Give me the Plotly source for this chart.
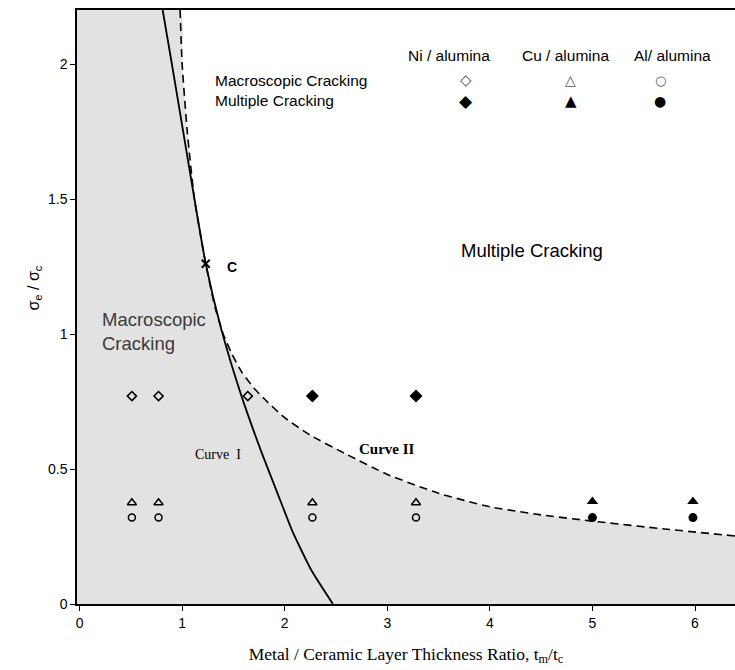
import plotly.graph_objects as go

# Curve I (solid) and Curve II (dashed) traced boundary points
curve1_x = [0.81, 0.90, 1.12, 1.23, 1.38, 1.57, 1.78, 1.93, 2.08, 2.26, 2.47]
curve1_y = [2.2, 2.0, 1.5, 1.26, 1.02, 0.78, 0.556, 0.41, 0.265, 0.125, 0.0]

curve2_x = [0.98, 1.0, 1.05, 1.12, 1.23, 1.32, 1.40, 1.48, 1.58, 1.70, 1.80, 2.0, 2.25, 2.6,
            3.0, 3.5, 4.0, 4.5, 5.0, 5.7, 6.39]
curve2_y = [2.2, 2.0, 1.75, 1.5, 1.26, 1.10, 1.00, 0.93, 0.86, 0.80, 0.76, 0.69, 0.625, 0.555,
            0.48, 0.41, 0.36, 0.33, 0.307, 0.278, 0.252]

# Experimental points: open = macroscopic cracking, filled = multiple cracking
ni_open_x = [0.51, 0.77, 1.64]
ni_open_y = [0.77, 0.77, 0.77]
ni_fill_x = [2.27, 3.28]
ni_fill_y = [0.77, 0.77]

cu_open_x = [0.51, 0.77, 2.27, 3.28]
cu_open_y = [0.375, 0.375, 0.375, 0.375]
cu_fill_x = [5.0, 5.98]
cu_fill_y = [0.38, 0.38]

al_open_x = [0.51, 0.77, 2.27, 3.28]
al_open_y = [0.32, 0.32, 0.32, 0.32]
al_fill_x = [5.0, 5.98]
al_fill_y = [0.32, 0.32]

point_c = (1.23, 1.26)

x_ticks = [0, 1, 2, 3, 4, 5, 6]
y_ticks = [0, 0.5, 1, 1.5, 2]
y_tick_text = ["0", "0.5", "1", "1.5", "2"]

SANS = "Liberation Sans, Arial, sans-serif"
SERIF = "Liberation Serif, Times New Roman, serif"

fig = go.Figure()

# shaded macroscopic-cracking region below Curve II
fig.add_trace(go.Scatter(
    x=[-0.03] + curve2_x, y=[2.2] + curve2_y,
    mode="lines", line=dict(width=0, shape="spline", smoothing=0.5),
    fill="tozeroy", fillcolor="rgb(226,226,226)", hoverinfo="skip",
))

fig.add_trace(go.Scatter(
    x=curve2_x, y=curve2_y, mode="lines",
    line=dict(color="black", width=1.6, dash="8px,5px", shape="spline", smoothing=0.5),
))
fig.add_trace(go.Scatter(
    x=curve1_x, y=curve1_y, mode="lines",
    line=dict(color="black", width=1.8, shape="spline", smoothing=0.5),
))

open_line = dict(color="black", width=1.5)
fig.add_trace(go.Scatter(x=ni_open_x, y=ni_open_y, mode="markers",
                         marker=dict(symbol="diamond-open", size=7, line=open_line, color="black")))
fig.add_trace(go.Scatter(x=ni_fill_x, y=ni_fill_y, mode="markers",
                         marker=dict(symbol="diamond", size=10, color="black")))
fig.add_trace(go.Scatter(x=cu_open_x, y=cu_open_y, mode="markers",
                         marker=dict(symbol="triangle-up-open", size=8, line=open_line, color="black")))
fig.add_trace(go.Scatter(x=cu_fill_x, y=cu_fill_y, mode="markers",
                         marker=dict(symbol="triangle-up", size=10, color="black")))
fig.add_trace(go.Scatter(x=al_open_x, y=al_open_y, mode="markers",
                         marker=dict(symbol="circle-open", size=7, line=open_line, color="black")))
fig.add_trace(go.Scatter(x=al_fill_x, y=al_fill_y, mode="markers",
                         marker=dict(symbol="circle", size=9, color="black")))
fig.add_trace(go.Scatter(x=[point_c[0]], y=[point_c[1]], mode="markers",
                         marker=dict(symbol="x-thin-open", size=8, color="black",
                                     line=dict(color="black", width=2))))

ann = []
def text(x, y, s, size, family=SANS, color="black", xanchor="center", **kw):
    ann.append(dict(x=x, y=y, xref="x", yref="y", text=s, showarrow=False,
                    font=dict(family=family, size=size, color=color), xanchor=xanchor, **kw))

text(1.49, 1.25, "<b>C</b>", 14)
text(4.41, 1.31, "Multiple Cracking", 18.5)
text(0.2, 1.01, "Macroscopic<br>Cracking", 18.5, color="#3a3a3a", xanchor="left", align="left")
text(1.35, 0.555, "Curve  I", 14, family=SERIF)
text(3.0, 0.574, "<b>Curve II</b>", 15, family=SERIF)

# key for the point symbols
text(3.60, 2.033, "Ni / alumina", 15.5)
text(4.74, 2.033, "Cu / alumina", 15.5)
text(5.78, 2.033, "Al/ alumina", 15.5)
text(1.30, 1.94, "Macroscopic Cracking", 15.5, xanchor="left")
text(1.30, 1.865, "Multiple Cracking", 15.5, xanchor="left")
for sx, s_open, s_fill, so, sf in [(3.77, "◇", "◆", 15, 17), (4.79, "△", "▲", 14, 15), (5.66, "○", "●", 13, 14)]:
    text(sx, 1.94, s_open, so, family="DejaVu Sans", color="#555")
    text(sx, 1.863, s_fill, sf, family="DejaVu Sans")

# y-axis title, placed in paper coordinates
ann.append(dict(x=(22 - 77) / (735 - 77), y=(604 - 288) / (604 - 10), xref="paper", yref="paper",
                text="σ<sub>e</sub> / σ<sub>c</sub>", showarrow=False, textangle=-90,
                font=dict(family=SANS, size=16, color="black")))

fig.update_layout(
    width=735, height=670,
    margin=dict(l=77, r=0, t=10, b=66),
    paper_bgcolor="white", plot_bgcolor="white",
    showlegend=False,
    annotations=ann,
    xaxis=dict(range=[-0.025, 6.39], tickvals=x_ticks, showgrid=False, zeroline=False,
               showline=True, linecolor="black", linewidth=1.5, mirror=True,
               ticks="outside", ticklen=5, tickcolor="black",
               tickfont=dict(family=SANS, size=14, color="black"),
               title=dict(text="Metal / Ceramic Layer Thickness Ratio, t<sub>m</sub>/t<sub>c</sub>",
                          font=dict(family=SERIF, size=17.5, color="black"), standoff=18)),
    yaxis=dict(range=[0, 2.2], tickvals=y_ticks, ticktext=y_tick_text, showgrid=False, zeroline=False,
               showline=True, linecolor="black", linewidth=1.5,
               ticks="outside", ticklen=5, tickcolor="black",
               tickfont=dict(family=SANS, size=14, color="black")),
)

fig.write_html("out.html")
